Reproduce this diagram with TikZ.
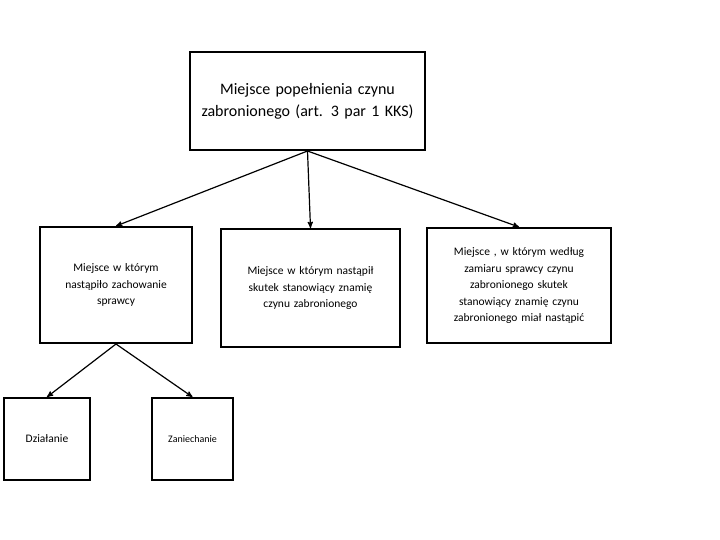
\documentclass[tikz,border=0pt]{standalone}
\usepackage{fontspec}
\setmainfont{Carlito}
\usetikzlibrary{arrows,positioning}
\begin{document}
\begin{tikzpicture}[x=1pt,y=-1pt,
  >=stealth', line width=1.2pt,
  bigbox/.style={rectangle, draw=black, line width=2pt, align=center, inner sep=0pt, font=\fontsize{16}{22}\selectfont},
  smallbox/.style={rectangle, draw=black, line width=2pt, align=center, inner sep=0pt, font=\fontsize{11.5}{16.5}\selectfont}
]
\useasboundingbox (0,0) rectangle (720,540);
\node[bigbox, minimum width=235, minimum height=98, text width=225] (top) at (307.5,101) {Miejsce popełnienia czynu zabronionego (art. 3 par 1 KKS)};
\node[smallbox, minimum width=152, minimum height=116, text width=145] (zach) at (116,285) {Miejsce w którym\\ nastąpiło zachowanie\\ sprawcy};
\node[smallbox, minimum width=179, minimum height=118, text width=170] (skut) at (310.5,288) {Miejsce w którym nastąpił\\ skutek stanowiący znamię\\ czynu zabronionego};
\node[smallbox, minimum width=184, minimum height=115, text width=178] (zam) at (519,285.5) {Miejsce , w którym według\\ zamiaru sprawcy czynu\\ zabronionego skutek\\ stanowiący znamię czynu\\ zabronionego miał nastąpić};
\node[smallbox, minimum width=86, minimum height=82] (dzial) at (47,439) {Działanie};
\node[smallbox, minimum width=81, minimum height=82, font=\fontsize{10}{12}\selectfont] (zan) at (192.5,439) {Zaniechanie};
\draw[->] (top.south) -- (zach.north);
\draw[->] (top.south) -- (skut.north);
\draw[->] (top.south) -- (zam.north);
\draw[->] (zach.south) -- (dzial.north);
\draw[->] (zach.south) -- (zan.north);
\end{tikzpicture}
\end{document}
